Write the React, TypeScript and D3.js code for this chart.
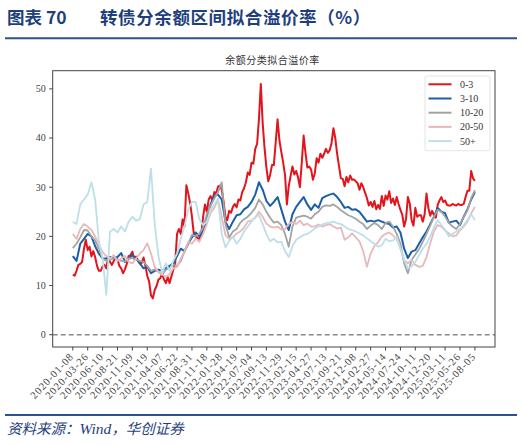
import React from "react";
import * as d3 from "d3";

const seriesNames = ["0-3", "3-10", "10-20", "20-50", "50+"];
const seriesColors = ["#e2141c", "#1c5ea8", "#a3a3a3", "#e8b8ba", "#bcdfe9"];

const tickLabels = [
  "2020-01-08", "2020-03-26", "2020-06-10", "2020-08-21", "2020-11-09", "2021-01-19",
  "2021-04-07", "2021-06-22", "2021-08-31", "2021-11-18", "2022-01-28", "2022-04-19",
  "2022-07-04", "2022-09-13", "2022-11-29", "2023-02-15", "2023-04-27", "2023-07-13",
  "2023-09-21", "2023-12-08", "2024-02-27", "2024-05-14", "2024-07-24", "2024-10-11",
  "2024-12-20", "2025-03-11", "2025-05-26", "2025-08-05",
];
const yTicks = [0, 10, 20, 30, 40, 50];

// 0-3: sampled twice as densely as the other series
const s0_3 = [
  12.2, 12.0, 13.0, 14.2, 14.4, 14.8, 17.5, 19.3, 17.2, 17.9, 15.9, 17.0, 15.8, 14.0, 13.0, 13.0,
  13.9, 14.2, 13.5, 15.8, 14.8, 14.2, 15.0, 15.7, 15.3, 14.0, 13.5, 12.5, 13.3, 14.4, 16.0, 16.2,
  16.9, 15.4, 15.9, 15.1, 14.5, 14.6, 15.7, 14.0, 12.0, 10.8, 8.0, 7.4, 9.1, 9.9, 11.2, 11.5,
  12.4, 11.2, 10.5, 11.7, 10.5, 11.9, 13.2, 14.5, 20.5, 21.5, 20.5, 23.5, 22.0, 30.4, 28.8, 26.8,
  24.0, 20.5, 20.0, 19.7, 19.5, 20.3, 24.0, 26.5, 25.0, 27.5, 28.2, 27.3, 29.0, 28.7, 30.1, 30.3,
  29.5, 27.0, 24.0, 23.3, 25.2, 24.8, 26.0, 26.6, 25.9, 27.5, 27.3, 29.0, 29.8, 31.0, 33.0, 32.5,
  35.0, 34.8, 37.8, 38.8, 43.9, 51.0, 43.0, 38.0, 34.0, 31.2, 32.5, 34.5, 34.5, 39.2, 43.8, 39.5,
  37.2, 35.0, 32.5, 26.5, 30.2, 32.3, 34.2, 32.6, 33.3, 32.0, 30.0, 35.0, 40.5, 37.0, 34.0, 34.2,
  33.6, 31.5, 32.8, 35.9, 35.0, 36.8, 36.0, 36.8, 37.8, 37.0, 37.5, 39.0, 42.0, 40.0, 36.8, 34.3,
  31.8, 31.7, 30.2, 32.1, 31.0, 32.4, 31.5, 31.6, 31.2, 30.8, 29.5, 30.8, 30.0, 28.9, 27.8, 26.3,
  27.0, 26.0, 27.2, 25.5, 26.4, 25.6, 28.2, 26.2, 28.3, 27.5, 29.2, 26.8, 27.7, 26.4, 28.0, 26.6,
  25.4, 24.4, 22.0, 23.5, 28.0, 26.7, 23.3, 22.2, 25.8, 24.0, 24.3, 24.3, 23.0, 24.5, 28.7, 25.8,
  24.2, 25.2, 24.4, 23.8, 26.4, 27.3, 28.0, 27.0, 27.3, 26.4, 26.3, 26.3, 26.6, 26.4, 26.3, 26.6,
  26.4, 26.4, 26.6, 28.0, 29.3, 29.3, 33.3, 31.8, 31.3,
];
const s3_10 = [
  16.0, 15.0, 18.5, 19.5, 20.5, 20.0, 18.0, 16.5, 15.5, 15.5, 15.8, 15.5, 15.8, 16.6, 14.8, 15.5,
  16.2, 15.5, 14.5, 13.5, 13.8, 12.5, 13.0, 13.2, 13.0, 13.5, 14.0, 14.5, 16.0, 17.5, 17.0, 18.5,
  19.8, 20.8, 20.0, 21.0, 23.5, 26.5, 28.3, 28.5, 27.5, 23.0, 21.5, 23.0, 24.3, 24.5, 25.5, 26.0,
  27.0, 28.5, 31.0, 29.5, 27.2, 26.2, 27.0, 28.0, 25.5, 23.0, 21.3, 24.5, 26.0, 27.0, 28.0, 26.5,
  25.4, 26.5, 25.8, 27.8, 28.2, 28.5, 28.7, 28.0, 27.0, 25.8, 26.0, 25.4, 25.5, 25.0, 24.0, 23.0,
  23.2, 23.0, 23.3, 23.0, 22.7, 22.5, 21.8, 22.0, 20.8, 17.5, 15.6, 16.9, 17.2, 18.5, 19.8, 21.0,
  22.5, 24.0, 25.8, 25.0, 24.7, 22.8, 23.0, 23.2, 22.3, 24.0, 25.5, 27.5, 29.0,
];
const s10_20 = [
  17.6, 18.5, 19.8, 21.3, 21.2, 20.0, 19.2, 17.5, 15.5, 15.0, 15.3, 15.6, 15.4, 15.0, 14.9, 15.5,
  15.6, 15.3, 15.0, 14.8, 14.0, 13.0, 13.3, 12.8, 12.2, 13.2, 13.6, 14.2, 14.0, 15.0, 16.9, 18.5,
  20.3, 20.0, 20.6, 21.8, 24.5, 26.2, 27.7, 29.0, 31.0, 22.5, 19.8, 21.0, 21.5, 22.8, 23.5, 24.0,
  24.8, 25.8, 27.5, 26.5, 25.0, 23.8, 22.8, 23.0, 22.3, 20.5, 17.9, 22.0, 23.8, 24.0, 24.2, 24.0,
  23.6, 24.5, 25.0, 26.0, 26.3, 26.2, 26.5, 26.0, 25.3, 24.8, 24.3, 24.0, 23.6, 23.0, 22.5, 21.5,
  22.2, 22.7, 22.3, 21.5, 22.7, 23.0, 22.0, 20.5, 18.5, 14.5, 12.5, 15.2, 16.3, 17.4, 18.9, 20.5,
  22.2, 24.0, 25.4, 25.0, 24.0, 22.8, 22.0, 21.5, 22.5, 24.0, 25.2, 27.8, 29.4,
];
const s20_50 = [
  20.5, 19.5, 21.5, 22.5, 22.0, 21.3, 20.0, 18.3, 16.8, 16.0, 15.5, 16.2, 15.0, 15.5, 16.0, 14.8,
  14.5, 15.5, 16.5, 17.2, 18.6, 16.5, 13.8, 12.8, 12.2, 11.8, 12.3, 13.5, 13.8, 15.5, 17.0, 18.9,
  18.5, 19.5, 18.9, 20.5, 22.5, 24.8, 25.8, 27.5, 24.0, 20.2, 19.5, 19.8, 20.6, 21.0, 21.8, 23.0,
  23.2, 23.8, 25.0, 24.0, 22.6, 22.0, 21.8, 22.0, 21.4, 21.5, 22.5, 23.0, 22.5, 23.2, 22.3, 22.6,
  22.0, 22.0, 22.4, 22.0, 22.3, 22.5, 22.0, 21.6, 21.8, 19.3, 19.8, 20.6, 19.8, 19.0, 17.0, 13.8,
  16.5, 18.0, 18.8, 20.0, 20.5, 20.8, 20.2, 19.5, 17.5, 15.2, 14.5, 15.2, 14.2, 13.8, 14.0, 15.8,
  18.6, 21.0, 22.3, 22.0, 21.2, 20.6, 20.0, 20.2, 21.3, 22.0, 23.0, 24.7, 26.0,
];
const s50plus = [
  23.0, 22.5, 26.5, 27.5, 28.5, 31.0, 27.5, 19.0, 15.5, 8.1, 21.0, 21.5, 20.8, 22.0, 21.0, 23.0,
  24.0, 23.2, 23.5, 26.5, 27.0, 33.8, 22.5, 16.0, 12.5, 14.5, 13.0, 15.0, 16.5, 19.5, 22.0, 25.5,
  27.0, 27.0, 23.5, 22.3, 23.0, 25.5, 26.4, 27.7, 20.5, 17.8, 19.0, 20.0, 18.5, 19.5, 21.0, 22.0,
  23.0, 24.0, 24.3, 22.5, 20.5, 19.0, 19.5, 18.8, 18.9, 17.0, 15.8, 18.0, 19.3, 19.8, 20.3, 20.5,
  21.0, 21.6, 22.0, 22.4, 22.7, 22.8, 23.0, 22.7, 22.5, 22.0, 21.5, 21.3, 21.0, 20.6, 20.2, 19.6,
  19.0, 18.5, 17.9, 18.2, 19.5, 19.0, 19.2, 19.9, 17.5, 15.2, 13.5, 13.9, 14.8, 16.2, 17.5, 18.5,
  20.0, 21.8, 23.3, 22.3, 21.3, 20.0, 20.5, 21.0, 21.5, 22.3, 23.3, 24.5, 23.3,
];
const allSeries = [s0_3, s3_10, s10_20, s20_50, s50plus];

const W = 524;
const H = 445;
const plot = { left: 52.7, right: 495, top: 70.7, bottom: 347 };
const navy = "#1f3f7c";
const serif = "'Liberation Serif', 'DejaVu Serif', serif";
const cjk = "'Noto Sans CJK SC', sans-serif";

export default function App() {
  const span = tickLabels.length - 1; // in tick units
  const pad = span * 0.05;
  const x = d3.scaleLinear().domain([-pad, span + pad]).range([plot.left, plot.right]);
  const y = d3.scaleLinear().domain([-2.5, 53.7]).range([plot.bottom, plot.top]);
  const pathFor = (s: number[]) => {
    const step = span / (s.length - 1);
    return (
      d3
        .line<number>()
        .x((_, i) => x(i * step))
        .y((d) => y(d))(s) || ""
    );
  };

  return (
    <div style={{ position: "fixed", left: 0, top: 0, width: W, height: H, background: "#fff" }}>
      <svg width={W} height={H} viewBox={`0 0 ${W} ${H}`} style={{ display: "block" }}>
        <rect width={W} height={H} fill="#fff" />
        <text x={7} y={24} fontFamily={cjk} fontWeight={700} fontSize={17.5} fill={navy}>
          图表 70
        </text>
        <text x={100} y={24} fontFamily={cjk} fontWeight={700} fontSize={17.5} fill={navy} letterSpacing={0.6}>
          转债分余额区间拟合溢价率（%）
        </text>
        <line x1={5} x2={517} y1={38.3} y2={38.3} stroke="#2b5294" strokeWidth={2} />

        <text x={272.5} y={64} textAnchor="middle" fontFamily={cjk} fontSize={10} fill="#333" letterSpacing={0.5}>
          余额分类拟合溢价率
        </text>

        <line
          x1={plot.left}
          x2={plot.right}
          y1={y(0)}
          y2={y(0)}
          stroke="#8a8a8a"
          strokeWidth={1.4}
          strokeDasharray="5,3"
        />

        <g>
          {allSeries.map((s, k) => (
            <path
              key={seriesNames[k]}
              d={pathFor(s)}
              fill="none"
              stroke={seriesColors[k]}
              strokeWidth={k < 2 ? 2 : 1.8}
              strokeLinejoin="round"
            />
          ))}
        </g>

        <rect
          x={plot.left}
          y={plot.top}
          width={plot.right - plot.left}
          height={plot.bottom - plot.top}
          fill="none"
          stroke="#444"
          strokeWidth={1}
        />

        {yTicks.map((t) => (
          <g key={t}>
            <line x1={plot.left - 3.5} x2={plot.left} y1={y(t)} y2={y(t)} stroke="#444" strokeWidth={1} />
            <text
              x={plot.left - 7}
              y={y(t) + 3.3}
              textAnchor="end"
              fontFamily={serif}
              fontSize={10}
              fill="#444"
            >
              {t}
            </text>
          </g>
        ))}

        {tickLabels.map((lab, k) => {
          const tx = x(k);
          return (
            <g key={lab}>
              <line x1={tx} x2={tx} y1={plot.bottom} y2={plot.bottom + 3.5} stroke="#444" strokeWidth={1} />
              <text
                transform={`translate(${tx + 1.5},${plot.bottom + 10}) rotate(-47)`}
                textAnchor="end"
                fontFamily={serif}
                fontSize={10.5}
                letterSpacing={0.9}
                fill="#444"
              >
                {lab}
              </text>
            </g>
          );
        })}

        <g>
          <rect x={425} y={76} width={65} height={74.7} fill="#fff" stroke="#ddd" strokeWidth={0.8} rx={2} />
          {seriesNames.map((name, k) => {
            const ly = 84.3 + k * 14.2;
            return (
              <g key={name}>
                <line x1={428.5} x2={451.5} y1={ly} y2={ly} stroke={seriesColors[k]} strokeWidth={2} />
                <text x={460} y={ly + 3.4} fontFamily={serif} fontSize={10} fill="#333">
                  {name}
                </text>
              </g>
            );
          })}
        </g>

        <line x1={5} x2={517} y1={415} y2={415} stroke="#2b5294" strokeWidth={2} />
        <text x={7} y={434} fontFamily={cjk} fontStyle="italic" fontSize={14.5} fill={navy}>
          资料来源：
          <tspan fontFamily={serif} fontSize={15.5}>Wind</tspan>，华创证券
        </text>
      </svg>
    </div>
  );
}
